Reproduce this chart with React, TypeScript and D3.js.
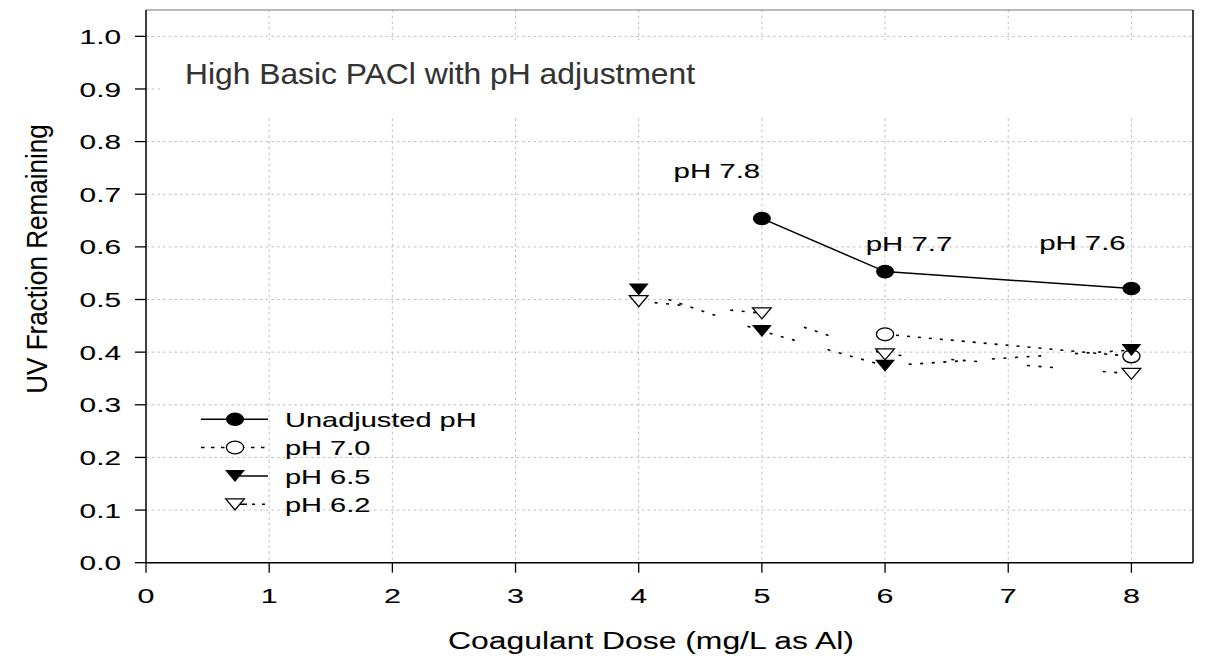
import React from "react";
import * as d3 from "d3";

// Coagulant dose (mg/L as Al) and UV254 fraction remaining for each pH condition
const unadjDose = [5, 6, 8];
const unadjUV = [0.654, 0.553, 0.521];
const unadjPH = ["pH 7.8", "pH 7.7", "pH 7.6"];

const ph70Dose = [6, 8];
const ph70UV = [0.434, 0.392];

const ph65Dose = [4, 5, 6, 8];
const ph65UV = [0.519, 0.44, 0.374, 0.404];

const ph62Dose = [4, 5, 6, 8];
const ph62UV = [0.497, 0.474, 0.396, 0.359];

const xTickValues = [0, 1, 2, 3, 4, 5, 6, 7, 8];
const yTickValues = [0, 0.1, 0.2, 0.3, 0.4, 0.5, 0.6, 0.7, 0.8, 0.9, 1.0];
const legendNames = ["Unadjusted pH", "pH 7.0", "pH 6.5", "pH 6.2"];

const titleText = "High Basic PACl with pH adjustment";
const xLabel = "Coagulant Dose (mg/L as Al)";
const yLabel = "UV Fraction Remaining";

const W = 1212;
const H = 656;
const FONT = "Arial, 'Liberation Sans', Helvetica, sans-serif";

type Pt = { x: number; y: number };
const zip = (xs: number[], ys: number[]): Pt[] => xs.map((x, i) => ({ x, y: ys[i] }));

function Txt(props: {
  x: number;
  y: number;
  size: number;
  sx?: number;
  rot?: number;
  anchor?: "start" | "middle" | "end";
  fill?: string;
  children: React.ReactNode;
}) {
  const { x, y, size, sx = 1, rot = 0, anchor = "start", fill = "#000", children } = props;
  return (
    <text
      transform={`translate(${x},${y}) rotate(${rot}) scale(${sx},1)`}
      fontSize={size}
      fontFamily={FONT}
      textAnchor={anchor}
      fill={fill}
      stroke={fill}
      strokeWidth={0.1}
    >
      {children}
    </text>
  );
}

// Marker shapes (slightly wider than tall)
function FilledCircle({ cx, cy }: { cx: number; cy: number }) {
  return <ellipse cx={cx} cy={cy} rx={9} ry={6.8} fill="#000" />;
}
function OpenCircle({ cx, cy }: { cx: number; cy: number }) {
  return <ellipse cx={cx} cy={cy} rx={8.6} ry={6.4} fill="#fff" stroke="#000" strokeWidth={1.3} />;
}
const triPath = "M-10,-6L10,-6L0,6Z";
function FilledTri({ cx, cy }: { cx: number; cy: number }) {
  return <path d={triPath} transform={`translate(${cx},${cy})`} fill="#000" />;
}
function OpenTri({ cx, cy }: { cx: number; cy: number }) {
  return (
    <path
      d="M-9.3,-5.4L9.3,-5.4L0,5.6Z"
      transform={`translate(${cx},${cy})`}
      fill="#fff"
      stroke="#000"
      strokeWidth={1.3}
    />
  );
}

export default function App() {
  const left = 146;
  const right = 1193;
  const top = 10;
  const bottom = 562.7;

  const x = d3.scaleLinear().domain([0, 8.5]).range([left, right]);
  const y = d3.scaleLinear().domain([0, 1.05]).range([bottom, top]);

  const line = d3
    .line<Pt>()
    .x((d) => x(d.x))
    .y((d) => y(d.y));

  const unadj = zip(unadjDose, unadjUV);
  const ph70 = zip(ph70Dose, ph70UV);
  const ph65 = zip(ph65Dose, ph65UV);
  const ph62 = zip(ph62Dose, ph62UV);

  const gridColor = "#bdbdbd";
  const gridDash = "2.5,3.2";

  // label offsets relative to each unadjusted-pH point
  const phLabelOffsets = [
    { dx: -45, dy: -40 },
    { dx: 24, dy: -21 },
    { dx: -49, dy: -38 },
  ];

  const legendX = { lineStart: 201, lineEnd: 268, marker: 235, text: 285 };
  const legendRowY = [419.3, 447.5, 476, 504.3];

  return (
    <svg
      width={W}
      height={H}
      viewBox={`0 0 ${W} ${H}`}
      style={{ position: "absolute", left: 0, top: 0, background: "#fff" }}
    >
      <rect x={0} y={0} width={W} height={H} fill="#fff" />

      {/* grid */}
      <g>
        {yTickValues
          .filter((v) => v > 0)
          .map((v) => (
            <line
              key={`gy${v}`}
              x1={left}
              x2={right}
              y1={y(v)}
              y2={y(v)}
              stroke={gridColor}
              strokeWidth={1}
              strokeDasharray={gridDash}
            />
          ))}
        {xTickValues
          .filter((v) => v > 0)
          .map((v) => (
            <line
              key={`gx${v}`}
              x1={x(v)}
              x2={x(v)}
              y1={top}
              y2={bottom}
              stroke={gridColor}
              strokeWidth={1}
              strokeDasharray={gridDash}
            />
          ))}
      </g>

      {/* title box */}
      <rect x={163} y={40} width={right - 163 - 1} height={78} fill="#fff" />
      <Txt x={185} y={84} size={30} sx={1.06} fill="#333">
        {titleText}
      </Txt>

      {/* frame */}
      <line x1={left} x2={right} y1={top} y2={top} stroke="#777" strokeWidth={1.2} />
      <line x1={right} x2={right} y1={top} y2={bottom} stroke="#000" strokeWidth={1.5} />
      <line x1={left} x2={left} y1={top} y2={bottom} stroke="#000" strokeWidth={1.5} />
      <line x1={left} x2={right} y1={bottom} y2={bottom} stroke="#000" strokeWidth={1.5} />

      {/* y axis ticks and labels */}
      {yTickValues.map((v) => (
        <g key={`yt${v}`}>
          <line x1={left - 11} x2={left} y1={y(v)} y2={y(v)} stroke="#000" strokeWidth={1.3} />
          <Txt x={121} y={y(v) + 7.6} size={21} sx={1.42} anchor="end">
            {d3.format(".1f")(v)}
          </Txt>
        </g>
      ))}

      {/* x axis ticks and labels */}
      {xTickValues.map((v) => (
        <g key={`xt${v}`}>
          <line x1={x(v)} x2={x(v)} y1={bottom} y2={bottom + 10} stroke="#000" strokeWidth={1.3} />
          <Txt x={x(v)} y={603} size={21} sx={1.45} anchor="middle">
            {String(v)}
          </Txt>
        </g>
      ))}

      {/* axis titles */}
      <Txt x={651} y={649} size={24.5} sx={1.3} anchor="middle">
        {xLabel}
      </Txt>
      <Txt x={47} y={259} size={30} sx={0.87} rot={-90} anchor="middle">
        {yLabel}
      </Txt>

      {/* series lines */}
      <path d={line(unadj) ?? ""} fill="none" stroke="#000" strokeWidth={1.5} />
      <path d={line(ph70) ?? ""} fill="none" stroke="#000" strokeWidth={1.6} strokeDasharray="3,8" />
      <path
        d={line(ph65) ?? ""}
        fill="none"
        stroke="#000"
        strokeWidth={1.6}
        strokeDasharray="3,8.6,3,8.6,3,8.6,3,8.6,3,34"
        strokeDashoffset={52}
      />
      <path
        d={line(ph62) ?? ""}
        fill="none"
        stroke="#000"
        strokeWidth={1.6}
        strokeDasharray="3,8.5,3,8.5,3,50"
        strokeDashoffset={60}
      />

      {/* markers */}
      {unadj.map((d, i) => (
        <FilledCircle key={`u${i}`} cx={x(d.x)} cy={y(d.y)} />
      ))}
      {ph70.map((d, i) => (
        <OpenCircle key={`a${i}`} cx={x(d.x)} cy={y(d.y)} />
      ))}
      {ph65.map((d, i) => (
        <FilledTri key={`b${i}`} cx={x(d.x)} cy={y(d.y)} />
      ))}
      {ph62.map((d, i) => (
        <OpenTri key={`c${i}`} cx={x(d.x)} cy={y(d.y)} />
      ))}

      {/* pH labels of the unadjusted series */}
      {unadj.map((d, i) => (
        <Txt
          key={`pl${i}`}
          x={x(d.x) + phLabelOffsets[i].dx}
          y={y(d.y) + phLabelOffsets[i].dy}
          size={21}
          sx={1.4}
          anchor="middle"
        >
          {unadjPH[i]}
        </Txt>
      ))}

      {/* legend */}
      <g>
        <line
          x1={legendX.lineStart}
          x2={legendX.lineEnd}
          y1={legendRowY[0]}
          y2={legendRowY[0]}
          stroke="#000"
          strokeWidth={1.5}
        />
        <FilledCircle cx={legendX.marker} cy={legendRowY[0]} />

        <line
          x1={legendX.lineStart}
          x2={legendX.lineEnd}
          y1={legendRowY[1]}
          y2={legendRowY[1]}
          stroke="#000"
          strokeWidth={1.6}
          strokeDasharray="3.5,6.5"
        />
        <OpenCircle cx={legendX.marker} cy={legendRowY[1]} />

        <line
          x1={legendX.marker}
          x2={legendX.lineEnd}
          y1={legendRowY[2]}
          y2={legendRowY[2]}
          stroke="#000"
          strokeWidth={1.5}
        />
        <FilledTri cx={legendX.marker} cy={legendRowY[2]} />

        <line
          x1={legendX.marker}
          x2={legendX.lineEnd}
          y1={legendRowY[3]}
          y2={legendRowY[3]}
          stroke="#000"
          strokeWidth={1.6}
          strokeDasharray="12,5,3,7,3,20"
        />
        <OpenTri cx={legendX.marker} cy={legendRowY[3]} />

        {legendNames.map((n, i) => (
          <Txt key={`ln${i}`} x={legendX.text} y={legendRowY[i] + 7.8} size={21} sx={1.38}>
            {n}
          </Txt>
        ))}
      </g>
    </svg>
  );
}
